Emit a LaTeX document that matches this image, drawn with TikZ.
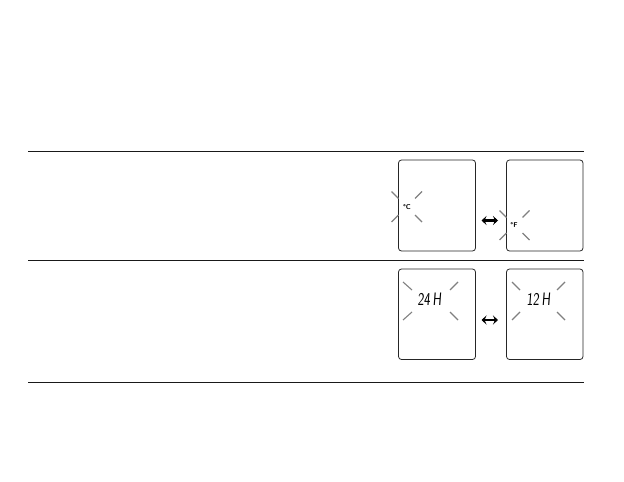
\documentclass[tikz,border=0pt]{standalone}
\usetikzlibrary{arrows.meta}
\begin{document}
\begin{tikzpicture}[x=1pt,y=-1pt,
  rule/.style={line width=1pt,draw=black!90},
  lcd/.style={draw=black!85,line width=0.8pt,rounded corners=3pt},
  ray/.style={draw=black!50,line width=1.1pt},
  unit/.style={font=\sffamily\bfseries\fontsize{7}{7}\selectfont,inner sep=0pt},
  seg/.style={font=\sffamily\fontsize{18}{18}\selectfont,inner sep=0pt,xscale=0.75,xslant=0.1,transform shape},
  swap/.style={line width=2.2pt,{Stealth[length=5pt,width=9pt,inset=2pt]}-{Stealth[length=5pt,width=9pt,inset=2pt]}}]
\useasboundingbox (0,0) rectangle (624,482);
% rules
\coordinate (r1a) at (28,151.5); \coordinate (r1b) at (583.5,151.5);
\coordinate (r2a) at (28,260.5); \coordinate (r2b) at (583.5,260.5);
\coordinate (r3a) at (28,382);   \coordinate (r3b) at (583.5,382);
\draw[rule] (r1a) -- (r1b);
\draw[rule] (r2a) -- (r2b);
\draw[rule] (r3a) -- (r3b);
% displays
\draw[lcd] (398.5,160) rectangle (475.5,251);
\draw[lcd] (506.5,160) rectangle (583,251);
\draw[lcd] (398.5,269) rectangle (475.5,359.5);
\draw[lcd] (506.5,269) rectangle (583,359.5);
% swap arrows
\coordinate (a1a) at (481.5,220.5); \coordinate (a1b) at (498,220.5);
\coordinate (a2a) at (481.5,320); \coordinate (a2b) at (498,320);
\draw[swap] (a1a) -- (a1b);
\draw[swap] (a2a) -- (a2b);
% degree C
\node[unit] (degc) at (407,207) {°C};
\draw[ray] (391.5,191.5) -- (398.5,198.5);
\draw[ray] (422,191.5) -- (415,198.5);
\draw[ray] (391.5,222) -- (398.5,215);
\draw[ray] (422,222) -- (415,215);
% degree F
\node[unit] (degf) at (514,225) {°F};
\draw[ray] (499.5,210.5) -- (506.5,217.5);
\draw[ray] (529.5,210.5) -- (522.5,217.5);
\draw[ray] (499.5,240) -- (506.5,233);
\draw[ray] (529.5,240) -- (522.5,233);
% 24H
\node[seg] (h24) at (430,299) {24\,H};
\draw[ray] (403,282) -- (412,290);
\draw[ray] (458,282) -- (450,290);
\draw[ray] (403,320) -- (412,312);
\draw[ray] (458,320) -- (450,312);
% 12H
\node[seg] (h12) at (539,299) {12\,H};
\draw[ray] (512,282) -- (520,290);
\draw[ray] (565,282) -- (557,290);
\draw[ray] (512,320) -- (520,312);
\draw[ray] (565,320) -- (557,312);
\end{tikzpicture}
\end{document}
